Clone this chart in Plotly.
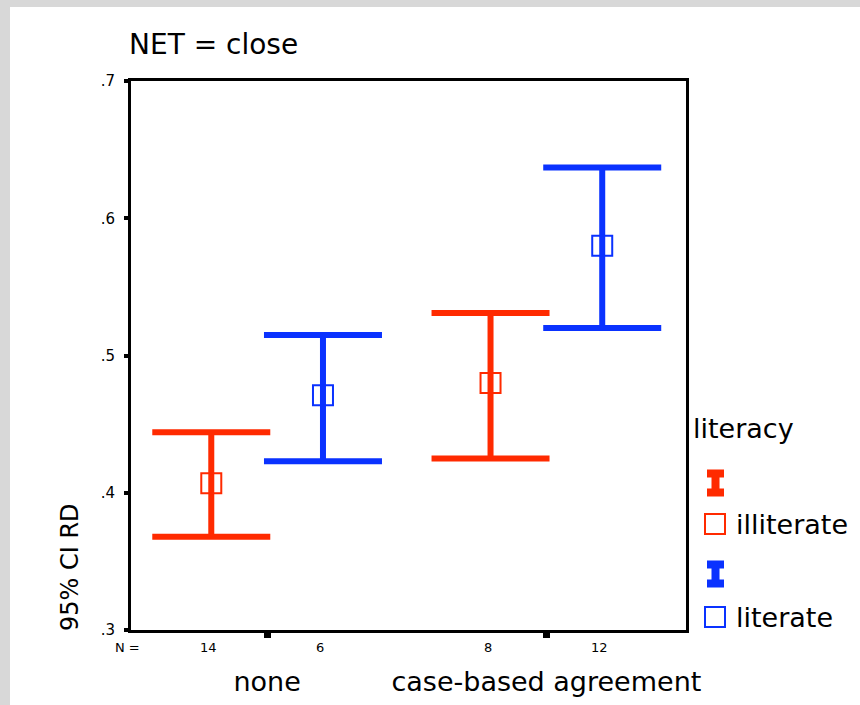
import plotly.graph_objects as go

# ---- data ----
categories = ["none", "case-based agreement"]
cat_pos = [1, 3]
groups = ["illiterate", "literate"]
offsets = [-0.4, 0.4]
n_counts = {"illiterate": [14, 8], "literate": [6, 12]}
means = {"illiterate": [0.407, 0.480], "literate": [0.471, 0.580]}
lowers = {"illiterate": [0.368, 0.425], "literate": [0.423, 0.520]}
uppers = {"illiterate": [0.444, 0.531], "literate": [0.515, 0.637]}
colors = {"illiterate": "#ff2a00", "literate": "#0a32ff"}
y_ticks = [0.3, 0.4, 0.5, 0.6, 0.7]
y_ticktext = [".3", ".4", ".5", ".6", ".7"]

W, H = 860, 705
ML, MR, MT, MB = 131, 174, 81, 75
PW, PH = W - ML - MR, H - MT - MB
FONT = "DejaVu Sans"
BIG = 27


def px(x):
    return (x - ML) / PW


def py(y):
    return (H - MB - y) / PH


fig = go.Figure()
for g, off in zip(groups, offsets):
    xs = [c + off for c in cat_pos]
    m = means[g]
    fig.add_trace(go.Scatter(
        x=xs, y=m, mode="markers", name=g, showlegend=False,
        marker=dict(symbol="square-open", size=20, color=colors[g],
                    line=dict(width=2, color=colors[g])),
        error_y=dict(type="data", symmetric=False,
                     array=[u - v for u, v in zip(uppers[g], m)],
                     arrayminus=[v - l for v, l in zip(m, lowers[g])],
                     color=colors[g], thickness=6, width=59),
    ))

annotations = []
# N row
annotations.append(dict(text="N =", x=px(127), y=py(647), xref="paper", yref="paper",
                        xanchor="center", yanchor="middle", showarrow=False,
                        font=dict(size=13, family=FONT, color="black")))
for g, off in zip(groups, offsets):
    for c, n in zip(cat_pos, n_counts[g]):
        annotations.append(dict(text=str(n), x=c + off - 0.02, y=py(647), xref="x", yref="paper",
                                xanchor="center", yanchor="middle", showarrow=False,
                                font=dict(size=13, family=FONT, color="black")))
# title
annotations.append(dict(text="NET = close", x=px(127), y=py(44), xref="paper", yref="paper",
                        xanchor="left", yanchor="middle", showarrow=False,
                        font=dict(size=28, family=FONT, color="black")))
# y title
annotations.append(dict(text="95% CI RD", x=px(70), y=py(567), xref="paper", yref="paper",
                        xanchor="center", yanchor="middle",
                        textangle=-90, showarrow=False,
                        font=dict(size=24, family=FONT, color="black")))
# legend texts
annotations.append(dict(text="literacy", x=px(691), y=py(428), xref="paper", yref="paper",
                        xanchor="left", yanchor="middle", showarrow=False,
                        font=dict(size=BIG, family=FONT, color="black")))
leg_rows = {"illiterate": (483, 524), "literate": (574, 617)}
shapes = []
# gray frame at left and top
shapes.append(dict(type="rect", xref="paper", yref="paper", x0=px(0), x1=px(10), y0=py(H), y1=py(0),
                   fillcolor="#d8d8d8", line=dict(width=0), layer="below"))
shapes.append(dict(type="rect", xref="paper", yref="paper", x0=px(0), x1=px(W), y0=py(7), y1=py(0),
                   fillcolor="#d8d8d8", line=dict(width=0), layer="below"))
for g in groups:
    yi, ys = leg_rows[g]
    annotations.append(dict(text=g, x=px(734), y=py(ys), xref="paper", yref="paper",
                            xanchor="left", yanchor="middle", showarrow=False,
                            font=dict(size=BIG, family=FONT, color="black")))
    # I-beam glyph
    xl, xr, sl, sr = 707, 724, 711.5, 719.5
    yt, yb = yi - 13.5, yi + 13.5
    path = (f"M {px(xl)},{py(yt)} L {px(xr)},{py(yt)} L {px(xr)},{py(yt+8)} L {px(sr)},{py(yt+8)} "
            f"L {px(sr)},{py(yb-8)} L {px(xr)},{py(yb-8)} L {px(xr)},{py(yb)} L {px(xl)},{py(yb)} "
            f"L {px(xl)},{py(yb-8)} L {px(sl)},{py(yb-8)} L {px(sl)},{py(yt+8)} L {px(xl)},{py(yt+8)} Z")
    shapes.append(dict(type="path", xref="paper", yref="paper", path=path,
                       fillcolor=colors[g], line=dict(width=0)))
    shapes.append(dict(type="rect", xref="paper", yref="paper",
                       x0=px(705), x1=px(725), y0=py(ys - 10), y1=py(ys + 10),
                       line=dict(color=colors[g], width=2), fillcolor="rgba(0,0,0,0)"))

fig.update_layout(
    width=W, height=H,
    margin=dict(l=ML, r=MR, t=MT, b=MB, pad=0),
    paper_bgcolor="white", plot_bgcolor="white",
    showlegend=False,
    annotations=annotations, shapes=shapes,
    font=dict(family=FONT, color="black"),
    xaxis=dict(range=[0.025, 4.0], tickvals=cat_pos, ticktext=categories,
               ticks="outside", ticklen=5, tickwidth=7, tickcolor="black",
               ticklabelstandoff=21, tickfont=dict(size=BIG, family=FONT, color="black"),
               showline=True, linecolor="black", linewidth=3, mirror=True,
               showgrid=False, zeroline=False, fixedrange=True, automargin=False),
    yaxis=dict(range=[0.3, 0.7], tickvals=y_ticks, ticktext=y_ticktext,
               ticks="outside", ticklen=4, tickwidth=4, tickcolor="black",
               ticklabelstandoff=6, tickfont=dict(size=15, family=FONT, color="black"),
               showline=True, linecolor="black", linewidth=3, mirror=True,
               showgrid=False, zeroline=False, fixedrange=True, automargin=False),
)

fig.write_html("out.html", config={"displayModeBar": False},
               post_script="document.body.style.margin='0';")
